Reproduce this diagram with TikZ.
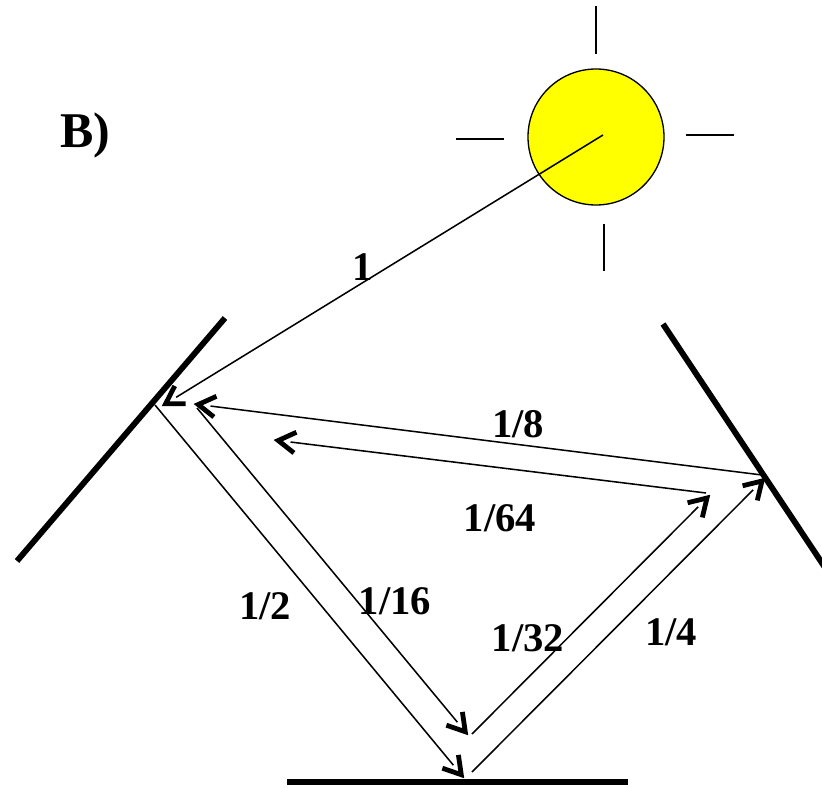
\documentclass[tikz,border=0pt]{standalone}
\usepackage{fontspec}
\setmainfont{Liberation Serif}
\definecolor{sunyellow}{RGB}{255,255,0}

\pgfdeclarearrow{
  name=BeamVee,
  setup code={
    \pgfarrowssettipend{0pt}
    \pgfarrowssetlineend{-12.5pt}
    \pgfarrowssetvisualbackend{-12.5pt}
  },
  drawing code={
    \pgfsetlinewidth{3.6pt}
    \pgfsetmiterjoin
    \pgfsetbuttcap
    \pgfpathmoveto{\pgfqpoint{-16pt}{7.8pt}}
    \pgfpathlineto{\pgfqpoint{-3.2pt}{0pt}}
    \pgfpathlineto{\pgfqpoint{-16pt}{-7.8pt}}
    \pgfusepathqstroke
  }
}

\begin{document}
\begin{tikzpicture}[
    x=0.75pt, y=-0.75pt,
    sun/.style={circle, draw, fill=sunyellow, minimum size=102pt, inner sep=0pt, line width=1pt},
    ray/.style={line width=1.1pt},
    mirror/.style={line width=4.4pt},
    beam/.style={-BeamVee, line width=1.15pt},
    frac/.style={font=\fontsize{30.5}{32}\selectfont\bfseries, inner sep=0pt}
]
\useasboundingbox (0,0) rectangle (822,788);

\node[sun] (star) at (596,137) {};
\node[font=\fontsize{37.5}{40}\selectfont\bfseries, inner sep=0pt] (panel) at (85.5,135) {B)};

% rays round the sun
\coordinate (rayN1) at (596,6);
\coordinate (rayN2) at (596,54);
\coordinate (rayW1) at (456,139);
\coordinate (rayW2) at (504,139);
\coordinate (rayE1) at (686,135);
\coordinate (rayE2) at (734,135);
\coordinate (rayS1) at (604,224);
\coordinate (rayS2) at (604,271);
\draw[ray] (rayN1) -- (rayN2);
\draw[ray] (rayW1) -- (rayW2);
\draw[ray] (rayE1) -- (rayE2);
\draw[ray] (rayS1) -- (rayS2);

% mirrors
\coordinate (leftA) at (225,318);
\coordinate (leftB) at (17,561);
\coordinate (rightA) at (663,324);
\coordinate (rightB) at (826,569);
\coordinate (floorA) at (287,782);
\coordinate (floorB) at (628,782);
\draw[mirror] (leftA) -- (leftB);
\draw[mirror] (rightA) -- (rightB);
\draw[mirror] (floorA) -- (floorB);

% beam ends
\coordinate (inS) at (603,135);
\coordinate (inE) at (162,406);
\coordinate (aS) at (155,405);
\coordinate (aE) at (464,778);
\coordinate (bS) at (472,772);
\coordinate (bE) at (765,478);
\coordinate (cS) at (762,475);
\coordinate (cE) at (194,404);
\coordinate (dS) at (197,408);
\coordinate (dE) at (468,735);
\coordinate (eS) at (472,734);
\coordinate (eE) at (710,495);
\coordinate (fS) at (706,493);
\coordinate (fE) at (274,440);

\draw[beam] (inS) -- (inE);
\draw[beam] (aS) -- (aE);
\draw[beam] (bS) -- (bE);
\draw[beam] (cS) -- (cE);
\draw[beam] (dS) -- (dE);
\draw[beam] (eS) -- (eE);
\draw[beam] (fS) -- (fE);

\node[frac] (one) at (363,267) {1};
\node[frac] (half) at (265,606) {1/2};
\node[frac] (quarter) at (671,632) {1/4};
\node[frac] (eighth) at (518,424) {1/8};
\node[frac] (sixteenth) at (395,601) {1/16};
\node[frac] (thirtysecond) at (528,638) {1/32};
\node[frac] (sixtyfourth) at (500,518) {1/64};
\end{tikzpicture}
\end{document}
